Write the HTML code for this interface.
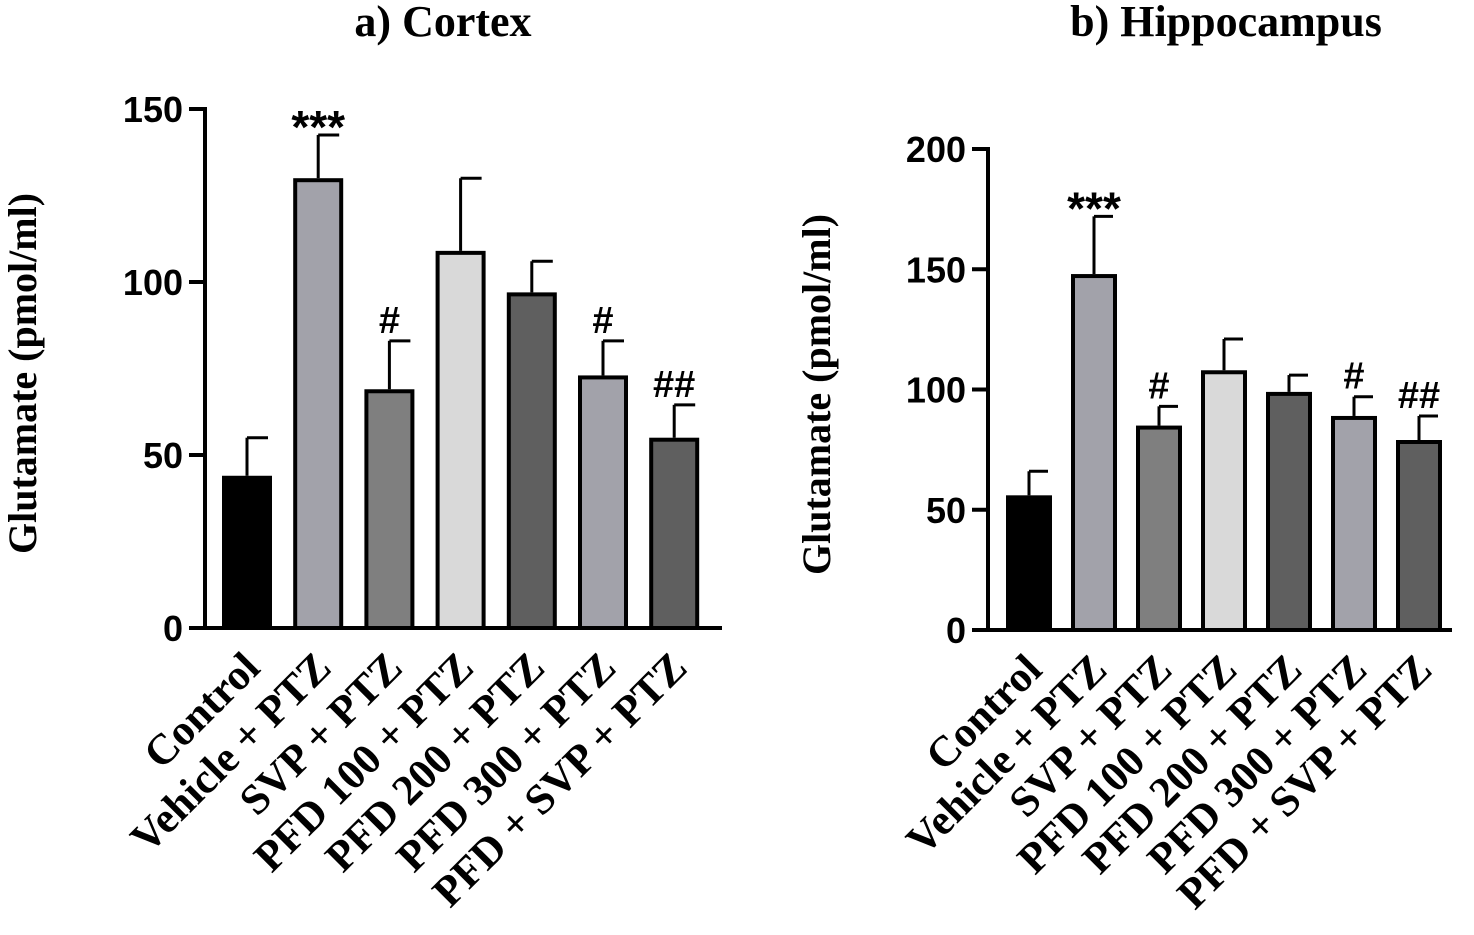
<!DOCTYPE html>
<html><head><meta charset="utf-8"><style>
body{margin:0;background:#fff;}
svg{display:block}
.t{font-family:"Liberation Serif",serif;font-weight:bold;}
.s{font-family:"Liberation Sans",sans-serif;font-weight:bold;}
</style></head><body>
<svg id="c" width="1474" height="935"></svg>
<script>
const categories=["Control","Vehicle + PTZ","SVP + PTZ","PFD 100 + PTZ","PFD 200 + PTZ","PFD 300 + PTZ","PFD + SVP + PTZ"];
const cortexMeans=[44,130,69,109,97,73,55];
const cortexErr=[11,12.5,14,21,9,10,9.5];
const cortexSig=["","***","#","","","#","##"];
const hippoMeans=[56,148,85,108,99,89,79];
const hippoErr=[10,24,8,13,7,8,10];
const hippoSig=["","***","#","","","#","##"];
const cortexTicks=[0,50,100,150];
const hippoTicks=[0,50,100,150,200];
const fills=["#000","#a2a2aa","#7f7f7f","#d9d9d9","#5f5f5f","#a2a2aa","#5f5f5f"];
const NS="http://www.w3.org/2000/svg";
const svg=document.getElementById('c');
function el(t,a,p){const e=document.createElementNS(NS,t);for(const k in a)e.setAttribute(k,a[k]);(p||svg).appendChild(e);return e;}
function panel(o){
 const g=el('g',{});
 
 
 const y=v=>o.y0-(v/o.ymax)*(o.y0-o.ytop);
 const x=i=>o.x0+o.first+i*o.step;
 const tt=el('text',{x:o.titleX,y:36,'text-anchor':'middle','font-size':44,class:'t'},g);tt.textContent=o.title;
 
 
 const yt=el('text',{transform:`translate(${o.ylabX},${(o.y0+o.ytop)/2+5}) rotate(-90)`,'text-anchor':'middle','font-size':40,class:'t'},g);yt.textContent="Glutamate (pmol/ml)";
 
 
 el('line',{x1:o.x0,y1:o.y0,x2:o.x0,y2:y(o.ticks[o.ticks.length-1])-2,stroke:'#000','stroke-width':4},g);
 el('line',{x1:o.x0-2,y1:o.y0,x2:o.xend,y2:o.y0,stroke:'#000','stroke-width':4},g);
 o.ticks.forEach(v=>{
  el('line',{x1:o.x0-16,y1:y(v),x2:o.x0,y2:y(v),stroke:'#000','stroke-width':4},g);
  const t=el('text',{x:o.x0-22,y:y(v)+13,'text-anchor':'end','font-size':36,class:'s'},g);t.textContent=v;
  
  
 });
 o.means.forEach((m,i)=>{
  const cx=x(i),top=y(m),et=y(m+o.err[i]);
  el('line',{x1:cx,y1:top,x2:cx,y2:et,stroke:'#000','stroke-width':3},g);
  el('line',{x1:cx,y1:et,x2:cx+o.bw/2-4,y2:et,stroke:'#000','stroke-width':3},g);
  const r=el('rect',{x:cx-o.bw/2+2,y:top+2,width:o.bw-4,height:o.y0-top-2,fill:fills[i],stroke:'#000','stroke-width':4},g);
  
  
  if(o.sig[i]){const big=o.sig[i]=="***";const s=el('text',{x:cx,y:big?et+8:et-8,'text-anchor':'middle','font-size':big?46:38,class:'s'},g);s.textContent=o.sig[i];
   
   }
  const l=el('text',{transform:`translate(${cx+15},${o.y0+42}) rotate(-45)`,'text-anchor':'end','font-size':43,class:'t'},g);l.textContent=categories[i];
  
  
 });
}
panel({name:'cortex-panel',title:'a) Cortex',titleX:443,ylabX:36,x0:205,xend:722,y0:628,ytop:109,ymax:150,ticks:cortexTicks,first:42,step:71.2,bw:50,means:cortexMeans,err:cortexErr,sig:cortexSig});
panel({name:'hippocampus-panel',title:'b) Hippocampus',titleX:1226,ylabX:830,x0:988,xend:1452,y0:630,ytop:149,ymax:200,ticks:hippoTicks,first:41,step:65,bw:46,means:hippoMeans,err:hippoErr,sig:hippoSig});
</script>
</body></html>
